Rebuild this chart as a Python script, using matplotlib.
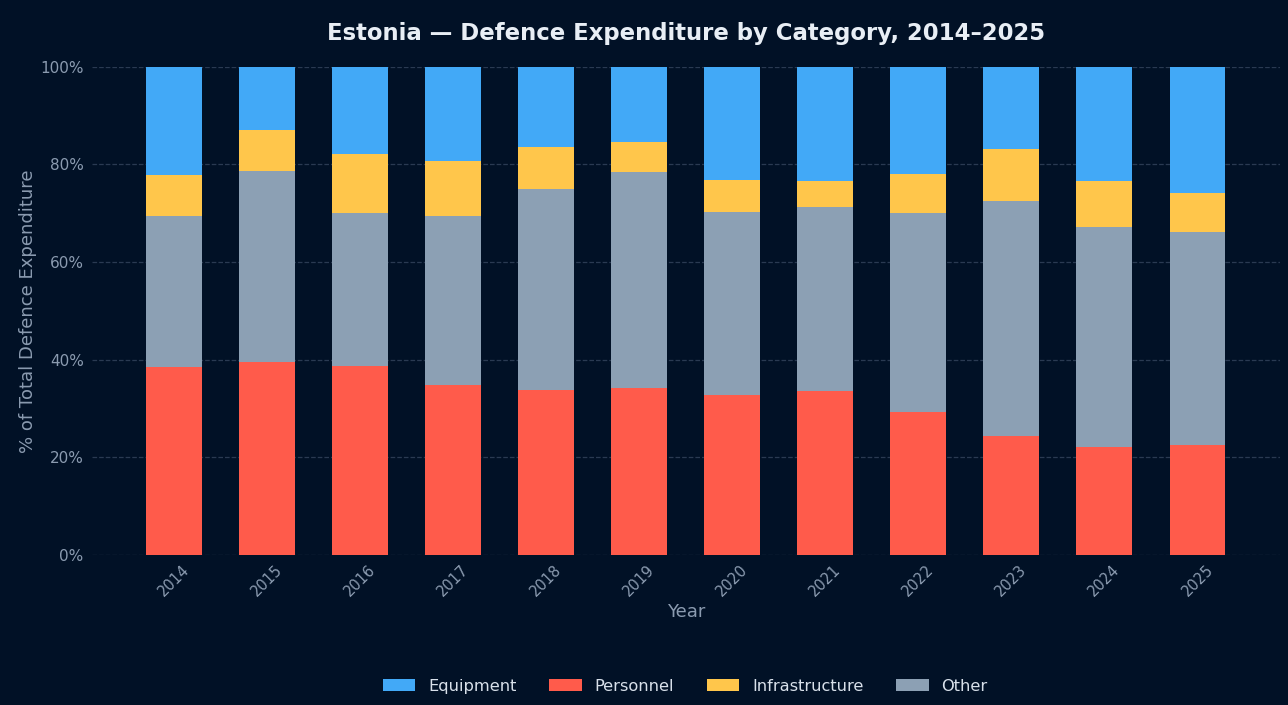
# estonia_defence.py

import numpy as np
import matplotlib.pyplot as plt
from matplotlib.ticker import PercentFormatter

# Data (% of total defence expenditure)
years = ['2014', '2015', '2016', '2017', '2018', '2019',
         '2020', '2021', '2022', '2023', '2024', '2025']
personnel = [38.6, 39.6, 38.7, 34.8, 33.8, 34.2, 32.7, 33.5, 29.3, 24.3, 22.1, 22.6]
other = [30.9, 39.1, 31.3, 34.7, 41.1, 44.2, 37.6, 37.7, 40.8, 48.3, 45.0, 43.5]
infrastructure = [8.3, 8.4, 12.1, 11.2, 8.6, 6.1, 6.6, 5.5, 8.0, 10.6, 9.5, 8.1]
equipment = [22.2, 12.9, 17.9, 19.3, 16.5, 15.5, 23.1, 23.3, 21.9, 16.8, 23.4, 25.8]

bg = '#011126'
c_equip = '#42a9f7'
c_pers = '#ff5b4b'
c_infra = '#ffc64b'
c_other = '#8ca0b4'
text_col = '#8b9bb0'

fig = plt.figure(figsize=(12.88, 7.05), dpi=100, facecolor=bg)
ax = fig.add_axes([0.0714, 0.2128, 0.9226, 0.6925], facecolor=bg)

x = np.arange(len(years))
w = 0.6
p = np.array(personnel)
o = np.array(other)
i = np.array(infrastructure)
e = np.array(equipment)

kw = dict(width=w, linewidth=0, zorder=3)
ax.bar(x, p, color=c_pers, label='Personnel', **kw)
ax.bar(x, o, bottom=p, color=c_other, label='Other', **kw)
ax.bar(x, i, bottom=p + o, color=c_infra, label='Infrastructure', **kw)
ax.bar(x, e, bottom=p + o + i, color=c_equip, label='Equipment', **kw)

ax.set_xlim(-0.88, 11.89)
ax.set_ylim(0, 100)
ax.set_xticks(x)
ax.set_xticklabels(years, rotation=45, color=text_col, fontsize=10.5)
ax.set_yticks([0, 20, 40, 60, 80, 100])
ax.yaxis.set_major_formatter(PercentFormatter(decimals=0))
ax.tick_params(axis='y', colors=text_col, labelsize=11, length=0, pad=6)
ax.tick_params(axis='x', length=0, pad=5)
ax.grid(axis='y', color='#2a3a52', linestyle='--', linewidth=0.9, zorder=0)
for s in ax.spines.values():
    s.set_visible(False)

ax.set_xlabel('Year', color=text_col, fontsize=13, labelpad=3)
ax.set_ylabel('% of Total Defence Expenditure', color=text_col, fontsize=13, labelpad=2)
ax.set_title('Estonia \u2014 Defence Expenditure by Category, 2014\u20132025',
             color='#e8eef5', fontsize=16.4, fontweight='bold', pad=19)

handles, labels = ax.get_legend_handles_labels()
order = [3, 0, 2, 1]
leg = fig.legend([handles[k] for k in order], [labels[k] for k in order],
                 loc='lower center', bbox_to_anchor=(0.532, -0.005), ncol=4,
                 frameon=False, fontsize=11.7, labelcolor='#d8e0ea',
                 handlelength=2.0, handleheight=0.8, columnspacing=2.0)

plt.savefig('out.png', dpi=100, facecolor=bg)
